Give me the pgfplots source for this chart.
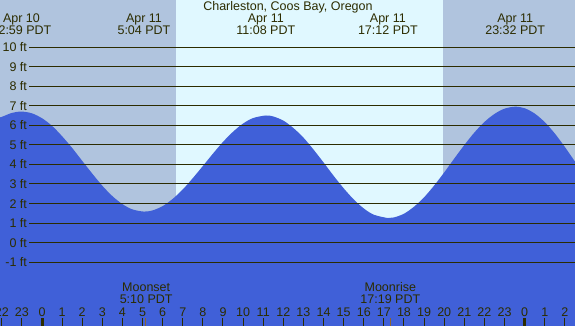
\documentclass[border=0pt]{standalone}
\usepackage{pgfplots}
\pgfplotsset{compat=1.18}
\usepgfplotslibrary{fillbetween}
\usepackage{fontspec}
\setmainfont{Liberation Sans}
\definecolor{nightcol}{RGB}{176,196,222}
\definecolor{daycol}{RGB}{224,248,255}
\definecolor{tidecol}{RGB}{64,96,216}
\definecolor{inkcol}{RGB}{44,44,0}
\definecolor{mooncol}{RGB}{140,100,50}
\tikzset{lbl/.style={font=\fontsize{12.5}{12}\selectfont, text=inkcol, inner sep=0pt, align=center}}
\begin{document}
\begin{tikzpicture}
\begin{axis}[
  name=ax,
  width=575pt, height=326pt, scale only axis,
  xmin=-2.0885, xmax=26.504, ymin=-4.257, ymax=12.402,
  axis line style={draw=none},
  xtick=\empty, ytick=\empty,
  axis background/.style={fill=nightcol},
  clip=true,
]
% daylight band
\addplot[name path=dtop, draw=none] coordinates {(6.648,13) (19.92,13)};
\addplot[name path=dbot, draw=none] coordinates {(6.648,-5) (19.92,-5)};
\addplot[daycol] fill between[of=dtop and dbot];
% tide curve
\addplot[name path=tide, draw=none, smooth] coordinates {
(-2.3,6.35) (-2,6.43) (-1.5,6.63) (-1.02,6.70) (-0.5,6.61) (0,6.36) (0.5,5.97) (1,5.44) (1.5,4.84) (2,4.18) (2.5,3.53) (3,2.91) (3.5,2.38) (4,1.97) (4.5,1.70) (5.07,1.59)
(5.5,1.65) (6,1.87) (6.5,2.24) (7,2.72) (7.5,3.30) (8,3.92) (8.5,4.55) (9,5.15) (9.5,5.67) (10,6.09) (10.5,6.37) (11.13,6.50)
(11.5,6.45) (12,6.24) (12.5,5.86) (13,5.37) (13.5,4.76) (14,4.10) (14.5,3.42) (15,2.78) (15.5,2.21) (16,1.75) (16.5,1.43) (17.2,1.26)
(17.5,1.29) (18,1.48) (18.5,1.84) (19,2.32) (19.5,2.92) (20,3.59) (20.5,4.30) (21,4.99) (21.5,5.63) (22,6.17) (22.5,6.58) (23,6.85) (23.53,6.95)
(24,6.87) (24.5,6.60) (25,6.16) (25.5,5.58) (26,4.89) (26.7,3.85)};
\addplot[name path=bottom, draw=none] coordinates {(-2.3,-5) (26.7,-5)};
\addplot[tidecol] fill between[of=tide and bottom];
% horizontal lines and labels
\pgfplotsinvokeforeach{-1,...,10}{
  \addplot[inkcol, line width=1pt] coordinates {(-0.63,#1) (27,#1)};
  \node[lbl, anchor=east] at (axis cs:-0.74,#1) {#1 ft};
}
% hour ticks
\pgfplotsinvokeforeach{-2,-1,1,2,3,4,5,6,7,8,9,10,11,12,13,14,15,16,17,18,19,20,21,22,23,25,26}{
  \addplot[inkcol, line width=1pt] coordinates {(#1,-4.3) (#1,-3.85)};
}
\addplot[inkcol, line width=3pt] coordinates {(0,-4.3) (0,-3.85)};
\addplot[inkcol, line width=3pt] coordinates {(24,-4.3) (24,-3.85)};
\addplot[mooncol, line width=1pt] coordinates {(5.167,-4.3) (5.167,-3.85)};
\addplot[mooncol, line width=1pt] coordinates {(17.317,-4.3) (17.317,-3.85)};
% hour labels
\pgfplotsinvokeforeach{-2,...,26}{
  \node[lbl] at (axis cs:#1,-3.53) {\pgfmathparse{int(mod(#1+24,24))}\pgfmathresult};
}
% title and tide labels
\node[lbl] at (axis cs:12.23,12.04) {Charleston, Coos Bay, Oregon};
\node[lbl] at (axis cs:-1.02,11.18) {Apr 10\\22:59 PDT};
\node[lbl] at (axis cs:5.07,11.18) {Apr 11\\5:04 PDT};
\node[lbl] at (axis cs:11.13,11.18) {Apr 11\\11:08 PDT};
\node[lbl] at (axis cs:17.2,11.18) {Apr 11\\17:12 PDT};
\node[lbl] at (axis cs:23.53,11.18) {Apr 11\\23:32 PDT};
\node[lbl] at (axis cs:5.18,-2.57) {Moonset\\5:10 PDT};
\node[lbl] at (axis cs:17.32,-2.57) {Moonrise\\17:19 PDT};
\end{axis}
\pgfresetboundingbox
\path[use as bounding box] (ax.south west) rectangle (ax.north east);
\end{tikzpicture}
\end{document}
